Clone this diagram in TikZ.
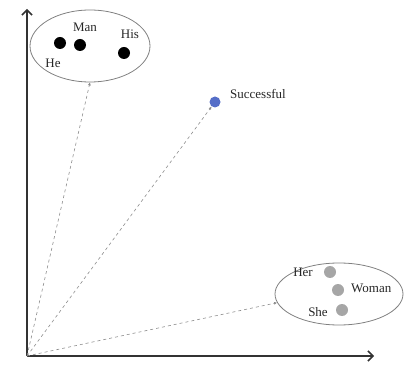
\documentclass[tikz,border=0pt]{standalone}
\usepackage{fontspec}
\setmainfont{Liberation Serif}
\usetikzlibrary{arrows.meta,positioning,shapes.geometric}

\begin{document}
\begin{tikzpicture}[x=1pt, y=1pt,
  axis/.style={line width=1.8pt, draw=black!80, -{Straight Barb[length=5pt,width=10pt,line width=1.5pt]}},
  vec/.style={dashed, draw=black!45, line width=0.6pt, -{Latex[length=3pt,width=3pt]}},
  group/.style={ellipse, draw=black!50, line width=0.8pt, inner sep=0pt},
  dot/.style={circle, inner sep=0pt, minimum size=12pt},
  word/.style={font=\fontsize{13}{15}\selectfont, text=black!85, inner sep=1pt}
]
\useasboundingbox (0,0) rectangle (404,367);

% axes
\coordinate (o) at (27,11);
\coordinate (ytop) at (27,358);
\coordinate (xend) at (374,11);
\draw[axis] (o) -- (ytop);
\draw[axis] (o) -- (xend);

% male words
\node[group, minimum width=120pt, minimum height=72pt] (male) at (90,321) {};
\node[dot, fill=black] (he) at (60,324) {};
\node[dot, fill=black] (man) at (80,322) {};
\node[dot, fill=black] (his) at (124,314) {};
\node[word] at (85,340) {Man};
\node[word] at (130,333) {His};
\node[word] at (53,304) {He};

% neutral word
\node[dot, minimum size=11pt, fill={rgb,255:red,85;green,110;blue,200}] (succ) at (215,265) {};
\node[word, anchor=west] at (229,273) {Successful};

% female words
\node[group, minimum width=128pt, minimum height=62pt] (female) at (339,73) {};
\node[dot, fill=black!35] (her) at (330,95) {};
\node[dot, fill=black!35] (woman) at (338,77) {};
\node[dot, fill=black!35] (she) at (342,57) {};
\node[word] at (303,95) {Her};
\node[word, anchor=west] at (350,79) {Woman};
\node[word] at (318,55) {She};

% vectors
\draw[vec] (o) -- (male.south);
\draw[vec] (o) -- (succ);
\draw[vec] (o) -- (female.188);
\end{tikzpicture}
\end{document}
